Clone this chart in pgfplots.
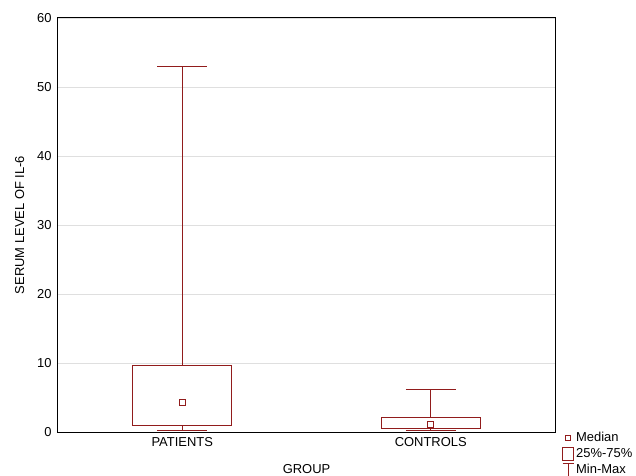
\documentclass[border=0pt]{standalone}
\usepackage{pgfplots}
\pgfplotsset{compat=1.18}
\usepgfplotslibrary{statistics}
\usepackage{fontspec}
\setmainfont{Liberation Sans}
\definecolor{myred}{RGB}{145,28,28}
\begin{document}
\begin{tikzpicture}
\begin{axis}[
  scale only axis,
  width=497bp, height=414bp,
  xmin=-0.5, xmax=1.5,
  ymin=0, ymax=60,
  ytick={0,10,...,60},
  xtick={0,1},
  xticklabels={PATIENTS,CONTROLS},
  major tick length=0pt,
  ymajorgrids,
  grid style={line width=0.8bp, gray!25},
  axis line style={line width=1bp},
  tick label style={font=\fontsize{13}{15}\selectfont},
  /pgf/number format/assume math mode=true,
  yticklabel style={xshift=-3bp},
  xticklabel style={yshift=-2bp},
  label style={font=\fontsize{13}{15}\selectfont},
  xlabel={GROUP},
  ylabel={SERUM LEVEL OF IL-6},
  xlabel style={yshift=-11bp},
  ylabel style={yshift=6bp},
  legend style={draw=none, fill=none, at={(1.014,0.002)}, anchor=north west,
    font=\fontsize{13}{15}\selectfont, row sep=2.5bp, inner sep=0pt,
    nodes={inner xsep=2bp, inner ysep=1bp}},
  legend cell align=left,
  boxplot/draw direction=y,
]
\addplot[myred, line width=1bp, forget plot,
  boxplot prepared={draw position=0, lower whisker=0.15, lower quartile=1.0,
    median=4.3, upper quartile=9.7, upper whisker=53, box extend=0.4, whisker extend=0.2},
  boxplot/draw/median/.code={}] coordinates {};
\addplot[myred, line width=1bp, forget plot,
  boxplot prepared={draw position=1, lower whisker=0.15, lower quartile=0.5,
    median=1.1, upper quartile=2.07, upper whisker=6.2, box extend=0.4, whisker extend=0.2},
  boxplot/draw/median/.code={}] coordinates {};
\addplot[color=myred, only marks, mark=square*, mark size=3bp, mark options={draw=myred, fill=white, line width=1.1bp}, forget plot]
  coordinates {(0,4.3) (1,1.1)};
\addlegendimage{legend image code/.code={\draw[myred, line width=1bp] (3bp,-2.5bp) rectangle (8bp,2.5bp);}}
\addlegendentry{Median}
\addlegendimage{legend image code/.code={\draw[myred, line width=1bp] (0bp,-7bp) rectangle (11bp,6bp);}}
\addlegendentry{25\%-75\%}
\addlegendimage{legend image code/.code={\draw[myred, line width=1bp] (0bp,6bp) -- (11bp,6bp) (5.5bp,6bp) -- (5.5bp,-7bp);}}
\addlegendentry{Min-Max}
\end{axis}
\pgfresetboundingbox
\path[use as bounding box] (-58bp,-44bp) rectangle (578bp,432bp);
\end{tikzpicture}
\end{document}
